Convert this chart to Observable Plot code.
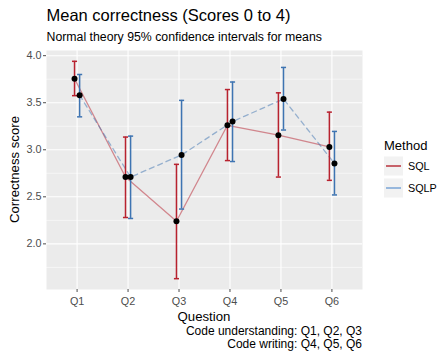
<!DOCTYPE html>
<html>
<head>
<meta charset="utf-8">
<script src="https://cdn.jsdelivr.net/npm/d3@7"></script>
<script src="https://cdn.jsdelivr.net/npm/@observablehq/plot@0.6"></script>
<style>
  html, body { margin: 0; padding: 0; background: #fff; }
  #chart { width: 438px; height: 352px; }
  svg { font-family: "Liberation Sans", Arial, Helvetica, sans-serif; }
</style>
</head>
<body>
<div id="chart"></div>
<script>
// ---- data ----
const questions = ["Q1", "Q2", "Q3", "Q4", "Q5", "Q6"];
const methods = ["SQL", "SQLP"];
const sqlMean = [3.755, 2.71, 2.24, 3.26, 3.155, 3.03];
const sqlLo   = [3.575, 2.28, 1.63, 2.885, 2.71, 2.675];
const sqlHi   = [3.94, 3.135, 2.845, 3.64, 3.605, 3.40];
const sqlpMean = [3.58, 2.71, 2.945, 3.30, 3.54, 2.855];
const sqlpLo   = [3.35, 2.27, 2.37, 2.875, 3.21, 2.52];
const sqlpHi   = [3.80, 3.145, 3.525, 3.72, 3.875, 3.195];
const yTicks = [2.0, 2.5, 3.0, 3.5, 4.0];
const yMinor = [1.75, 2.25, 2.75, 3.25, 3.75];

const title = "Mean correctness (Scores 0 to 4)";
const subtitle = "Normal theory 95% confidence intervals for means";
const xTitle = "Question";
const yTitle = "Correctness score";
const captionLines = ["Code understanding: Q1, Q2, Q3", "Code writing: Q4, Q5, Q6"];
const legendTitle = "Method";

const colors = { SQL: "#B8222F", SQLP: "#3E74B2" };
const keyColors = { SQL: "#B8323D", SQLP: "#7AA5D6" };
const dodge = { SQL: -0.05, SQLP: 0.05 };

const rows = [];
questions.forEach((q, i) => {
  rows.push({ q, method: "SQL", x: i + 1 + dodge.SQL, mean: sqlMean[i], lo: sqlLo[i], hi: sqlHi[i] });
  rows.push({ q, method: "SQLP", x: i + 1 + dodge.SQLP, mean: sqlpMean[i], lo: sqlpLo[i], hi: sqlpHi[i] });
});
const sqlRows = rows.filter(d => d.method === "SQL");
const sqlpRows = rows.filter(d => d.method === "SQLP");
const capW = 0.05;
const xPos = questions.map((q, i) => i + 1);

const W = 438, H = 352;
const mL = 46, mR = 76, mT = 50, mB = 63;

const chart = Plot.plot({
  width: W, height: H,
  marginLeft: mL, marginRight: mR, marginTop: mT, marginBottom: mB,
  style: { fontFamily: '"Liberation Sans", Arial, sans-serif', background: "#fff" },
  x: { type: "linear", domain: [0.4, 6.6] },
  y: { domain: [1.515, 4.055] },
  marks: [
    Plot.frame({ fill: "#EBEBEB", stroke: null }),
    Plot.ruleY(yMinor, { stroke: "#fff", strokeWidth: 0.55 }),
    Plot.ruleY(yTicks, { stroke: "#fff", strokeWidth: 1.1 }),
    Plot.ruleX(xPos, { stroke: "#fff", strokeWidth: 1.1 }),
    Plot.line(sqlRows, { x: "x", y: "mean", stroke: colors.SQL, strokeOpacity: 0.5, strokeWidth: 1.3 }),
    Plot.line(sqlpRows, { x: "x", y: "mean", stroke: colors.SQLP, strokeOpacity: 0.5, strokeWidth: 1.3, strokeDasharray: "5,4" }),
    Plot.ruleX(rows, { x: "x", y1: "lo", y2: "hi", stroke: d => colors[d.method], strokeWidth: 1.5 }),
    Plot.link(rows, { x1: d => d.x - capW, x2: d => d.x + capW, y1: "hi", y2: "hi", stroke: d => colors[d.method], strokeWidth: 1.5 }),
    Plot.link(rows, { x1: d => d.x - capW, x2: d => d.x + capW, y1: "lo", y2: "lo", stroke: d => colors[d.method], strokeWidth: 1.5 }),
    Plot.dot(rows, { x: "x", y: "mean", r: 3, fill: "#000", stroke: null }),
    Plot.axisY({ ticks: yTicks, tickFormat: d3.format(".1f"), tickSize: 3, tickPadding: 2, label: null, fontSize: 10.8, color: "#4D4D4D" }),
    Plot.axisX({ ticks: xPos, tickFormat: d => questions[d - 1], tickSize: 3, tickPadding: 5, label: null, fontSize: 10.8, color: "#4D4D4D" })
  ]
});
document.getElementById("chart").appendChild(chart);

// ---- titles, caption and legend ----
const svg = d3.select(chart);
const font = '"Liberation Sans", Arial, sans-serif';
function txt(x, y, s, size, opts = {}) {
  const t = svg.append("text").attr("x", x).attr("y", y).text(s)
    .attr("font-size", size).attr("font-family", font).attr("fill", opts.fill || "#000")
    .attr("text-anchor", opts.anchor || "start");
  if (opts.rotate) t.attr("transform", `rotate(-90 ${x} ${y})`);
  return t;
}
txt(46.5, 21, title, 16.5);
txt(46.5, 40.7, subtitle, 12.3);
const panelCx = mL + (W - mL - mR) / 2;
txt(panelCx, 320.5, xTitle, 13.2, { anchor: "middle" });
txt(W - mR, 335, captionLines[0], 12, { anchor: "end" });
txt(W - mR, 347.5, captionLines[1], 12, { anchor: "end" });
txt(18.5, mT + (H - mT - mB) / 2, yTitle, 13.2, { anchor: "middle", rotate: true });

// legend
txt(384, 150, legendTitle, 13);
methods.forEach((m, i) => {
  const y0 = 156.5 + i * 22;
  svg.append("rect").attr("x", 384).attr("y", y0).attr("width", 19).attr("height", 19).attr("fill", "#F2F2F2");
  svg.append("line").attr("x1", 386).attr("x2", 401).attr("y1", y0 + 9.5).attr("y2", y0 + 9.5)
    .attr("stroke", keyColors[m]).attr("stroke-width", 1.5);
  txt(408, y0 + 13.5, m, 10.8);
});
</script>
</body>
</html>
